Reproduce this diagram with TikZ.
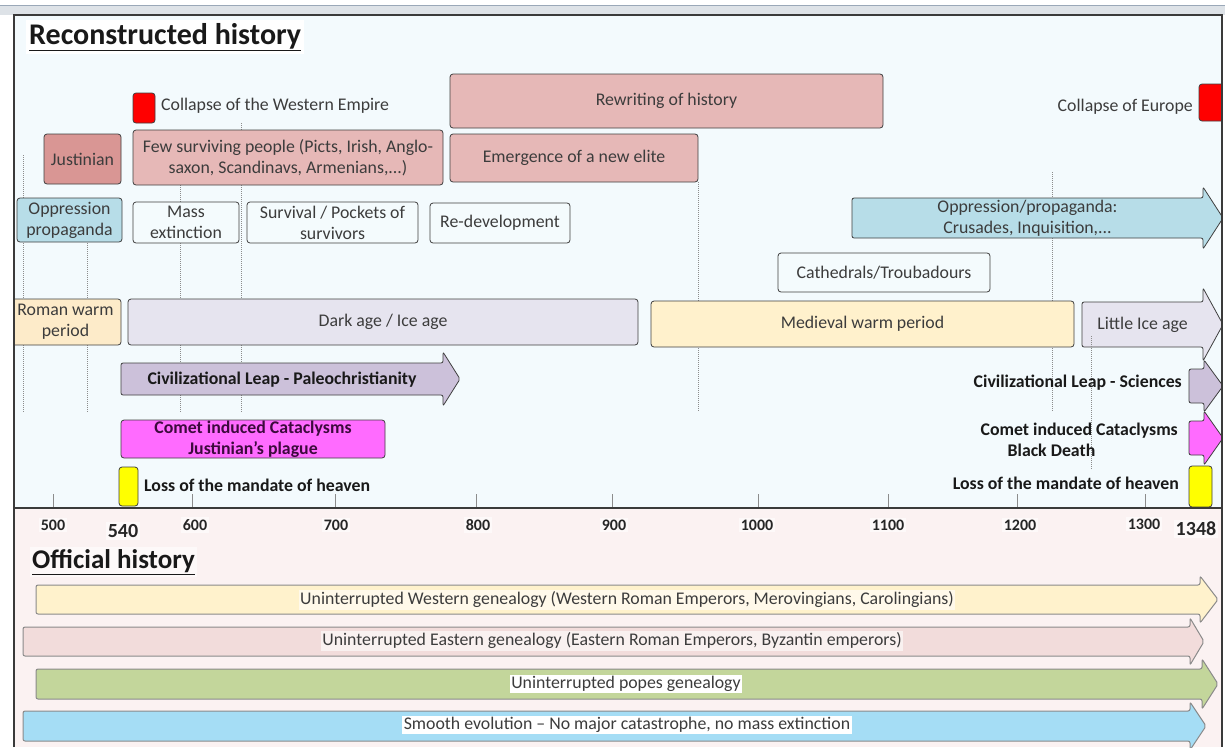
\documentclass[tikz,border=0pt]{standalone}
\usepackage{fontspec}
\setmainfont{Carlito}
\definecolor{bgtop}{HTML}{F3FAFD}
\definecolor{bgbot}{HTML}{FBF2F2}
\definecolor{chrome}{HTML}{DDE2E7}
\definecolor{chromeln}{HTML}{9AA8B8}
\definecolor{frame}{HTML}{3A3A3A}
\definecolor{bordc}{HTML}{3F3F3F}
\definecolor{txtgray}{HTML}{3C3C3C}
\definecolor{rose}{HTML}{E6B8B7}
\definecolor{rosedk}{HTML}{D99694}
\definecolor{lblue}{HTML}{B7DDE8}
\definecolor{pale}{HTML}{F4FBFD}
\definecolor{romwarm}{HTML}{FDEBC9}
\definecolor{medwarm}{HTML}{FFF1CC}
\definecolor{lav}{HTML}{E6E4EF}
\definecolor{lavdk}{HTML}{CCC1DA}
\definecolor{magen}{HTML}{FF6BFF}
\definecolor{comettxt}{HTML}{3D0A3D}
\definecolor{yel}{HTML}{FFFF00}
\definecolor{redbox}{HTML}{FF0000}
\definecolor{western}{HTML}{FFF2CC}
\definecolor{eastern}{HTML}{F2DCDB}
\definecolor{popes}{HTML}{C3D69B}
\definecolor{smooth}{HTML}{A5DDF5}
\definecolor{lowbord}{HTML}{8A8A8A}
\definecolor{guide}{HTML}{8C8C8C}
\newcommand\fnorm{\fontsize{17.8}{21}\selectfont}
\newcommand\fbold{\fontsize{17.8}{21}\selectfont\bfseries}
% box: name, x1, y1, x2, y2, style, text
\newcommand\bx[7]{\node[box,#6,minimum width={#4-#2},minimum height={#5-#3}] (#1) at ({(#2+#4)/2},{(#3+#5)/2}) {#7};}
% arrow: name, x1, tip x, ytop, ybot, head start x, head ext, style, text
\newcommand\harr[9]{%
  \draw[#8] ({#2},{#4}) -- ({#6},{#4}) -- ({#6},{#4-#7}) -- ({#3},{(#4+#5)/2}) -- ({#6},{#5+#7}) -- ({#6},{#5}) -- ({#2},{#5}) -- cycle;
  \node[atext] (#1) at ({(#2+#6)/2},{(#4+#5)/2}) {#9};}
\tikzset{
  box/.style={draw=bordc, line width=0.8pt, rounded corners=3pt, align=center, inner sep=0pt, text=txtgray, font=\fnorm},
  arr/.style={draw=bordc, line width=0.8pt, rounded corners=2pt},
  lowarr/.style={draw=lowbord, line width=1pt, rounded corners=2pt},
  atext/.style={align=center, inner sep=1pt, text=txtgray, font=\fnorm},
  lbl/.style={inner sep=1pt, text=txtgray, font=\fnorm},
  blbl/.style={inner sep=1pt, text=black!90, font=\fbold},
  yr/.style={inner sep=2pt, text=black!85, font=\fontsize{16}{19}\selectfont\bfseries, fill=white, fill opacity=0.55, text opacity=1},
  vline/.style={draw=guide, line width=0.6pt, dash pattern=on 1pt off 1pt},
  tick/.style={draw=guide, line width=0.8pt},
  hl/.style={fill=white, inner sep=1.5pt},
}
\begin{document}
\begin{tikzpicture}[x=1pt,y=-1pt]
\useasboundingbox (0,0) rectangle (1225,747);
\fill[white] (0,0) rectangle (1225,747);
% window chrome
\fill[chrome] (0,5) rectangle (1225,15);
\draw[chromeln, line width=1pt] (0,5) -- (1225,5);
% backgrounds
\fill[bgtop] (14,15) rectangle (1222,508);
\fill[bgbot] (14,508) rectangle (1222,747);
\begin{scope}
\clip (14,15) rectangle (1222,747);
% guide lines
\draw[vline] (23,155) -- (23,412);
\draw[vline] (87,243) -- (87,412);
\draw[vline] (180,185) -- (180,412);
\draw[vline] (241,123) -- (241,412);
\draw[vline] (698,182) -- (698,412);
\draw[vline] (1052,172) -- (1052,412);
% ticks
\foreach \tx in {53,192,335,476,612,758,888,1017,1145} {\draw[tick] (\tx,494) -- (\tx,508);}
% title
\node[anchor=west, fill=white, inner sep=3pt, text=black!90, font=\fontsize{30}{33}\selectfont\bfseries] (title) at (26,37) {\underline{Reconstructed history}};
% top row
\bx{cwe}{133}{93}{155}{123}{fill=redbox}{}
\node[lbl, anchor=west] (cwet) at (160,106) {Collapse of the Western Empire};
\bx{rew}{450}{74}{883}{128}{fill=rose}{Rewriting of history}
\bx{ceu}{1199}{84}{1232}{121}{fill=redbox}{}
\node[lbl, anchor=east] (ceut) at (1194,107) {Collapse of Europe};
% second row
\bx{just}{44}{134}{121}{184}{fill=rosedk}{Justinian}
\bx{few}{133}{130}{443}{185}{fill=rose}{Few surviving people (Picts, Irish, Anglo-\\saxon, Scandinavs, Armenians,...)}
\bx{elite}{450}{134}{698}{182}{fill=rose}{Emergence of a new elite}
% third row
\bx{opl}{17}{198}{122}{242}{fill=lblue}{Oppression\\propaganda}
\bx{mass}{133}{202}{239}{243}{fill=pale}{Mass\\extinction}
\bx{surv}{247}{202}{418}{243}{fill=pale}{Survival / Pockets of\\survivors}
\bx{redev}{430}{203}{570}{243}{fill=pale}{Re-development}
\harr{opr}{852}{1223}{198}{238}{1203}{11}{arr, fill=lblue}{Oppression/propaganda:\\Crusades, Inquisition,...}
\bx{cath}{778}{253}{990}{292}{fill=pale}{Cathedrals/Troubadours}
% climate row
\bx{rwp}{10}{299}{121}{345}{fill=romwarm}{Roman warm\\period}
\bx{dark}{128}{299}{638}{345}{fill=lav}{Dark age / Ice age}
\bx{mwp}{651}{301}{1074}{347}{fill=medwarm}{Medieval warm period}
\harr{lia}{1082}{1223}{302}{347}{1203}{14}{arr, fill=lav}{Little Ice age}
\draw[vline] (1091,336) -- (1091,470);
% civilizational leaps
\harr{paleo}{121}{460}{363}{395}{443}{11}{arr, fill=lavdk}{}
\node[blbl] (paleot) at (282,380) {Civilizational Leap - Paleochristianity};
\harr{sci}{1189}{1223}{369}{403}{1204}{9}{arr, fill=lavdk}{}
\node[blbl, anchor=east] (scit) at (1183,383) {Civilizational Leap - Sciences};
% comets
\bx{comet}{121}{420}{385}{458}{fill=magen, text=comettxt, font=\fbold}{Comet induced Cataclysms\\Justinian's plague}
\harr{bd}{1189}{1223}{421}{455}{1204}{10}{arr, fill=magen}{}
\node[blbl, anchor=east, align=left] (bdt) at (1179,440) {Comet induced Cataclysms\\\hspace*{27pt}Black Death};
% mandate of heaven
\bx{mh1}{119}{467}{138}{506}{fill=yel}{}
\node[blbl, anchor=west] (mh1t) at (143,485) {Loss of the mandate of heaven};
\bx{mh2}{1189}{466}{1212}{507}{fill=yel}{}
\node[blbl, anchor=east] (mh2t) at (1180,483) {Loss of the mandate of heaven};
% axis labels
\node[yr] (y500) at (53,525) {500};
\node[yr, font=\fontsize{20}{23}\selectfont\bfseries] (y540) at (123,531) {540};
\node[yr] (y600) at (195,525) {600};
\node[yr] (y700) at (336,525) {700};
\node[yr] (y800) at (478,525) {800};
\node[yr] (y900) at (614,525) {900};
\node[yr] (y1000) at (757,525) {1000};
\node[yr] (y1100) at (888,525) {1100};
\node[yr] (y1200) at (1020,525) {1200};
\node[yr] (y1300) at (1144,524) {1300};
\node[yr, font=\fontsize{20}{23}\selectfont\bfseries] (y1348) at (1196,529) {1348};
% official history
\node[anchor=west, fill=white, fill opacity=0.6, text opacity=1, inner sep=2pt, text=black!90, font=\fontsize{27}{30}\selectfont\bfseries] (otitle) at (30,562) {\underline{Official history}};
\harr{west}{36}{1218}{585}{614}{1200}{9}{lowarr, fill=western}{}
\node[atext, hl, fill opacity=0.6, text opacity=1] (westt) at (627,600) {Uninterrupted Western genealogy (Western Roman Emperors, Merovingians, Carolingians)};
\harr{east}{23}{1204}{627}{656}{1190}{9}{lowarr, fill=eastern}{}
\node[atext, hl, fill opacity=0.6, text opacity=1] (eastt) at (612,641) {Uninterrupted Eastern genealogy (Eastern Roman Emperors, Byzantin emperors)};
\harr{pope}{36}{1218}{669}{699}{1202}{10}{lowarr, fill=popes}{}
\node[atext, hl] (popet) at (626,684) {Uninterrupted popes genealogy};
\harr{smo}{23}{1206}{711}{741}{1190}{9}{lowarr, fill=smooth}{}
\node[atext, hl] (smot) at (627,725) {Smooth evolution -- No major catastrophe, no mass extinction};
\end{scope}
% frame
\draw[frame, line width=1.2pt] (14,747) -- (14,15) -- (1222,15) -- (1222,747);
\draw[frame, line width=1.2pt] (14,508) -- (1222,508);
\end{tikzpicture}
\end{document}
